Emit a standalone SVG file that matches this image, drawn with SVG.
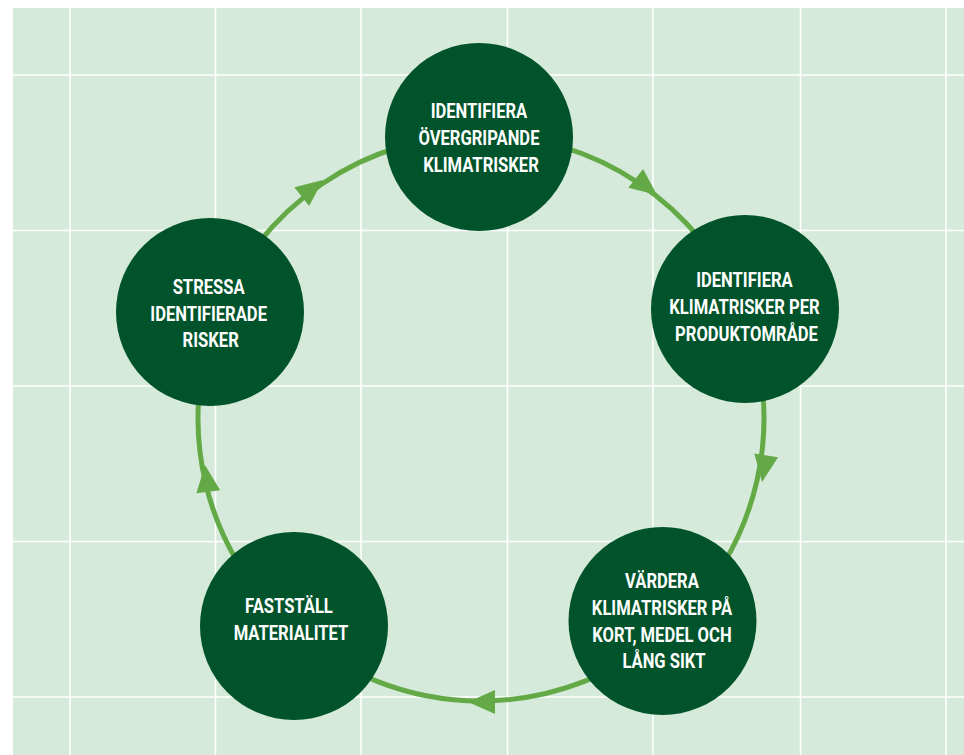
<svg xmlns="http://www.w3.org/2000/svg" xmlns:xlink="http://www.w3.org/1999/xlink" width="964" height="755" viewBox="0 0 964 755">
  <style>
    .panel { fill: #d6eadb; }
    .grid line { stroke: #ffffff; stroke-width: 1.5; }
    .ring { fill: none; stroke: #63aa47; stroke-width: 5; }
    .head { fill: #63aa47; }
    .node { fill: #00532b; }
    .lbl { font-family: Roboto, "Liberation Sans", sans-serif; font-weight: 700; font-size: 21px; fill: #ffffff; text-anchor: middle; }
  </style>
  <defs>
    <path id="ah" d="M0,0 L-27,-12 L-27,12 Z"/>
  </defs>

  <rect width="964" height="755" fill="#ffffff"/>
  <rect class="panel" x="13" y="8" width="951" height="747"/>

  <!-- background grid -->
  <g class="grid">
    <line x1="70" y1="8" x2="70" y2="755"/>
    <line x1="215.5" y1="8" x2="215.5" y2="755"/>
    <line x1="361" y1="8" x2="361" y2="755"/>
    <line x1="507.5" y1="8" x2="507.5" y2="755"/>
    <line x1="653" y1="8" x2="653" y2="755"/>
    <line x1="800.5" y1="8" x2="800.5" y2="755"/>
    <line x1="946" y1="8" x2="946" y2="755"/>
    <line x1="13" y1="75" x2="964" y2="75"/>
    <line x1="13" y1="230.5" x2="964" y2="230.5"/>
    <line x1="13" y1="386" x2="964" y2="386"/>
    <line x1="13" y1="541.5" x2="964" y2="541.5"/>
    <line x1="13" y1="697" x2="964" y2="697"/>
  </g>

  <!-- cycle connectors -->
  <g id="connectors">
    <path class="ring" d="M481,135 A283,283 0 0 1 742.6,310.1"/>
    <path class="ring" d="M742.6,310.1 A283,283 0 0 1 669.6,629"/>
    <path class="ring" d="M669.6,629 A283,283 0 0 1 291.6,628.3"/>
    <path class="ring" d="M291.6,628.3 A283,283 0 0 1 217.5,314.7"/>
    <path class="ring" d="M217.5,314.7 A283,283 0 0 1 481,135"/>
    <use class="head" xlink:href="#ah" transform="translate(657,195) rotate(38)"/>
    <use class="head" xlink:href="#ah" transform="translate(762,482) rotate(99)"/>
    <use class="head" xlink:href="#ah" transform="translate(468,702) rotate(180)"/>
    <use class="head" xlink:href="#ah" transform="translate(205,465) rotate(263)"/>
    <use class="head" xlink:href="#ah" transform="translate(323,180) rotate(-38)"/>
  </g>

  <g id="node-overgripande">
    <circle class="node" cx="479" cy="137" r="94"/>
    <text class="lbl" transform="translate(481,0) scale(0.79,1)">
      <tspan x="0" y="118.3">IDENTIFIERA</tspan>
      <tspan x="0" y="145">ÖVERGRIPANDE</tspan>
      <tspan x="0" y="171.7">KLIMATRISKER</tspan>
    </text>
  </g>

  <g id="node-produktomrade">
    <circle class="node" cx="745" cy="309" r="94"/>
    <text class="lbl" transform="translate(746.5,0) scale(0.79,1)">
      <tspan x="0" y="287.3">IDENTIFIERA</tspan>
      <tspan x="0" y="314">KLIMATRISKER PER</tspan>
      <tspan x="0" y="340.7">PRODUKTOMRÅDE</tspan>
    </text>
  </g>

  <g id="node-vardera">
    <circle class="node" cx="662.5" cy="621" r="94"/>
    <text class="lbl" transform="translate(664,0) scale(0.79,1)">
      <tspan x="0" y="588.3">VÄRDERA</tspan>
      <tspan x="0" y="615">KLIMATRISKER PÅ</tspan>
      <tspan x="0" y="641.7">KORT, MEDEL OCH</tspan>
      <tspan x="0" y="668.3">LÅNG SIKT</tspan>
    </text>
  </g>

  <g id="node-materialitet">
    <circle class="node" cx="294" cy="626" r="94"/>
    <text class="lbl" transform="translate(291,0) scale(0.79,1)">
      <tspan x="0" y="613.5">FASTSTÄLL</tspan>
      <tspan x="0" y="640.2">MATERIALITET</tspan>
    </text>
  </g>

  <g id="node-stressa">
    <circle class="node" cx="210" cy="312" r="94"/>
    <text class="lbl" transform="translate(210.7,0) scale(0.79,1)">
      <tspan x="0" y="294">STRESSA</tspan>
      <tspan x="0" y="320.7">IDENTIFIERADE</tspan>
      <tspan x="0" y="347.3">RISKER</tspan>
    </text>
  </g>
</svg>
